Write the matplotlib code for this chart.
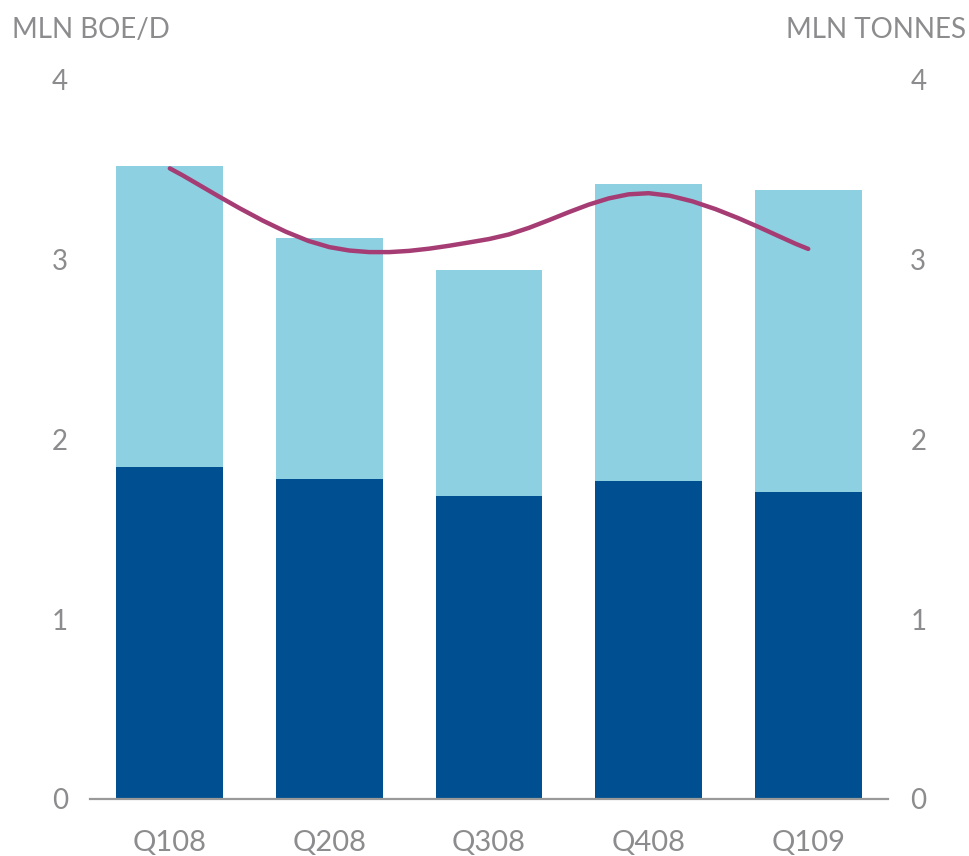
import numpy as np
import matplotlib.pyplot as plt

# data
quarters = ["Q108", "Q208", "Q308", "Q408", "Q109"]
dark_part = [1.847, 1.78, 1.686, 1.77, 1.708]
total_height = [3.52, 3.12, 2.94, 3.42, 3.39]
tonnes = [3.508, 3.07, 3.115, 3.37, 3.06]

DARK = "#004F90"
LIGHT = "#8DD0E1"
LINE = "#A63C74"
GRAY = "#8C8C8E"

plt.rcParams.update({
    "font.family": ["Lato", "DejaVu Sans"],
    "font.size": 19,
})


def smooth(xs, ys, n=8):
    # Catmull-Rom style smoothing like office chart "smoothed line"
    xs = np.asarray(xs, float)
    ys = np.asarray(ys, float)
    px = np.concatenate([[xs[0]], xs, [xs[-1]]])
    py = np.concatenate([[ys[0]], ys, [ys[-1]]])
    out_x, out_y = [], []
    for i in range(1, len(px) - 2):
        t = np.linspace(0, 1, n, endpoint=False)
        for p, out in ((px, out_x), (py, out_y)):
            p0, p1, p2, p3 = p[i - 1], p[i], p[i + 1], p[i + 2]
            m1 = (p2 - p0) / 2
            m2 = (p3 - p1) / 2
            h00 = 2 * t**3 - 3 * t**2 + 1
            h10 = t**3 - 2 * t**2 + t
            h01 = -2 * t**3 + 3 * t**2
            h11 = t**3 - t**2
            out.extend(h00 * p1 + h10 * m1 + h01 * p2 + h11 * m2)
    out_x.append(xs[-1])
    out_y.append(ys[-1])
    return np.array(out_x), np.array(out_y)


fig = plt.figure(figsize=(9.7, 8.56), dpi=100)
ax = fig.add_axes([0.0928, 0.0666, 0.8227, 0.84])
x = np.arange(len(quarters))
light_part = [t - d for t, d in zip(total_height, dark_part)]

ax.bar(x, dark_part, width=0.67, color=DARK, zorder=2)
ax.bar(x, light_part, bottom=dark_part, width=0.67, color=LIGHT, zorder=2)

ax.set_xlim(-0.5, len(quarters) - 0.5)
ax.set_ylim(0, 4)
ax.set_yticks([0, 1, 2, 3, 4])
ax.set_xticks(x)
ax.set_xticklabels(quarters)
for s in ["top", "left", "right"]:
    ax.spines[s].set_visible(False)
ax.spines["bottom"].set_color("#999999")
ax.spines["bottom"].set_linewidth(1.6)
ax.tick_params(axis="x", length=0, colors=GRAY, labelsize=21, pad=22)
ax.tick_params(axis="y", length=0, colors=GRAY, labelsize=20, pad=16)

ax2 = ax.twinx()
ax2.set_ylim(0, 4)
ax2.set_yticks([0, 1, 2, 3, 4])
for s in ax2.spines.values():
    s.set_visible(False)
ax2.tick_params(axis="y", length=0, colors=GRAY, labelsize=20, pad=16)
sx, sy = smooth(x, tonnes)
ax2.plot(sx, sy, color=LINE, lw=3.2, solid_capstyle="round", solid_joinstyle="round")

fig.text(12 / 970, 1 - 38 / 856, "MLN BOE/D", color=GRAY, fontsize=20,
         ha="left", va="baseline")
fig.text(966 / 970, 1 - 38 / 856, "MLN TONNES", color=GRAY, fontsize=20,
         ha="right", va="baseline")

fig.savefig("out.png", dpi=100)
